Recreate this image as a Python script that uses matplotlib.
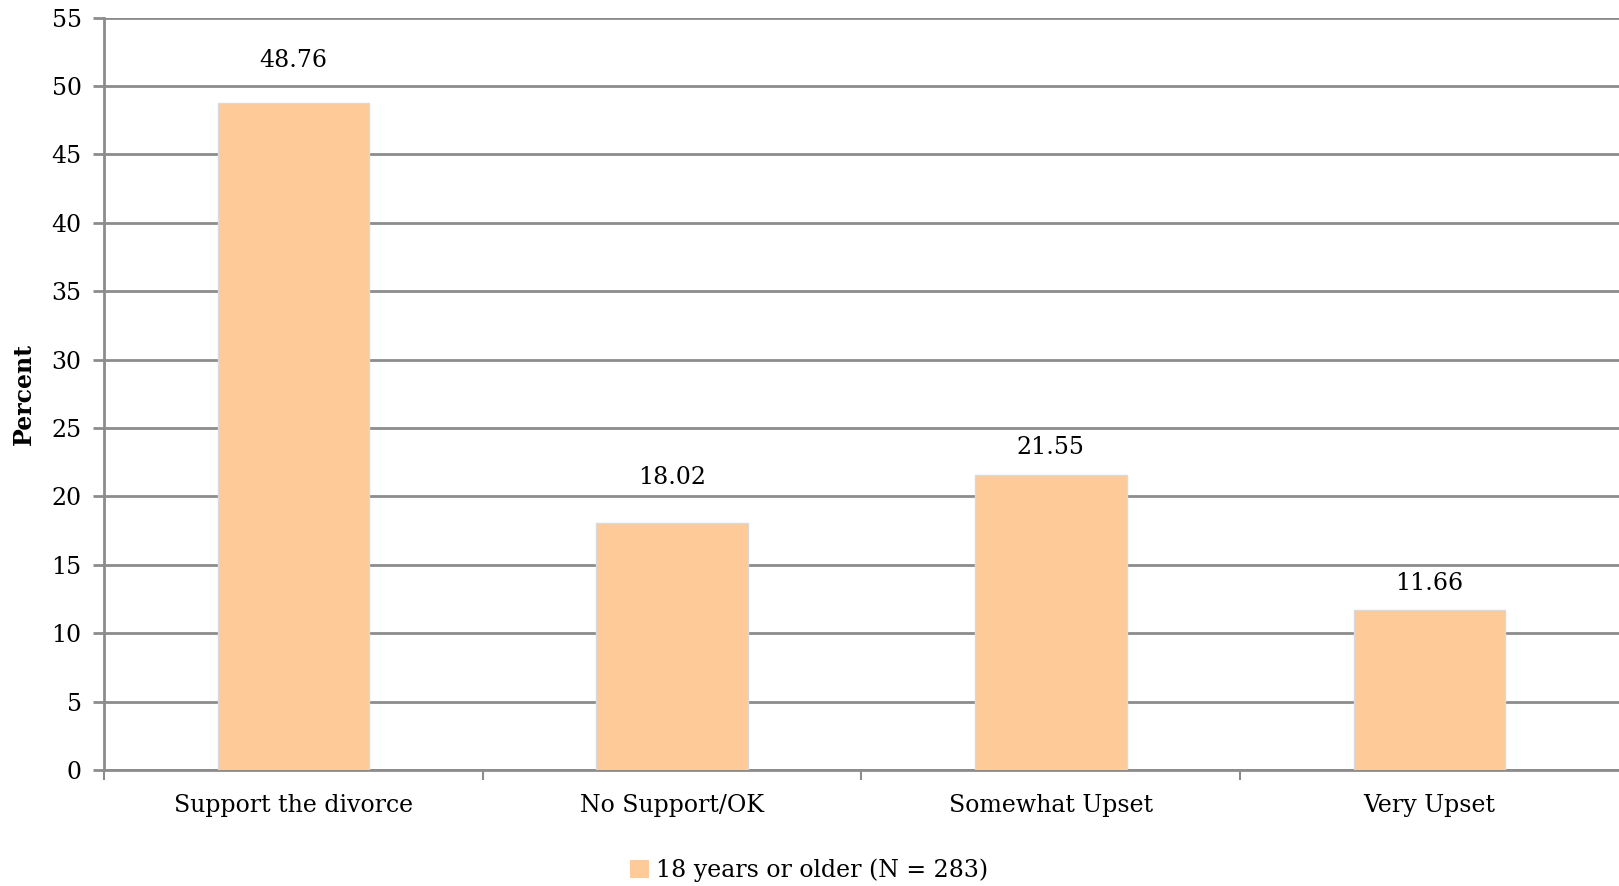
import matplotlib.pyplot as plt
from matplotlib.patches import Patch

categories = ["Support the divorce", "No Support/OK", "Somewhat Upset", "Very Upset"]
values = [48.76, 18.02, 21.55, 11.66]
series_label = "18 years or older (N = 283)"

# vertical gap between bar top and its value label (data units)
label_gaps = [2.25, 2.55, 1.15, 1.15]

plt.rcParams['font.family'] = ['DejaVu Serif']

fig = plt.figure(figsize=(16.19, 8.86), dpi=100)
ax = fig.add_axes([0.0642, 0.131, 0.9358, 0.849])

bar_color = '#FDCA98'
grid_color = '#8C8C8C'
fs = 17

x = range(len(categories))
ax.bar(x, values, width=0.4, color=bar_color, edgecolor='#D9D9D9', linewidth=1, zorder=3)

for xi, v, g in zip(x, values, label_gaps):
    ax.text(xi, v + g, f"{v:.2f}", ha='center', va='bottom', fontsize=fs)

ax.set_xlim(-0.5, 3.5)
ax.set_ylim(0, 55)
ax.set_yticks(range(0, 56, 5))
ax.yaxis.grid(True, color=grid_color, linewidth=2, zorder=0)
ax.set_axisbelow(True)

ax.set_xticks(list(x))
ax.set_xticklabels(categories, fontsize=fs)
ax.tick_params(axis='x', length=0, pad=17)
ax.set_xticks([0.5, 1.5, 2.5, -0.5], minor=True)
ax.tick_params(axis='x', which='minor', length=7, width=1.5, color=grid_color)
ax.tick_params(axis='y', labelsize=fs, length=8, width=2, color=grid_color, pad=8)

for side in ['top', 'right']:
    ax.spines[side].set_visible(False)
for side in ['left', 'bottom']:
    ax.spines[side].set_color(grid_color)
    ax.spines[side].set_linewidth(2)

ax.set_ylabel("Percent", fontsize=fs, fontweight='bold', labelpad=11)

handle = Patch(facecolor=bar_color, edgecolor='none')
fig.legend([handle], [series_label], loc='center', bbox_to_anchor=(0.5, 0.018),
           frameon=False, fontsize=fs, handlelength=0.8, handleheight=0.8, handletextpad=0.3)

fig.savefig("out.png", dpi=100)
